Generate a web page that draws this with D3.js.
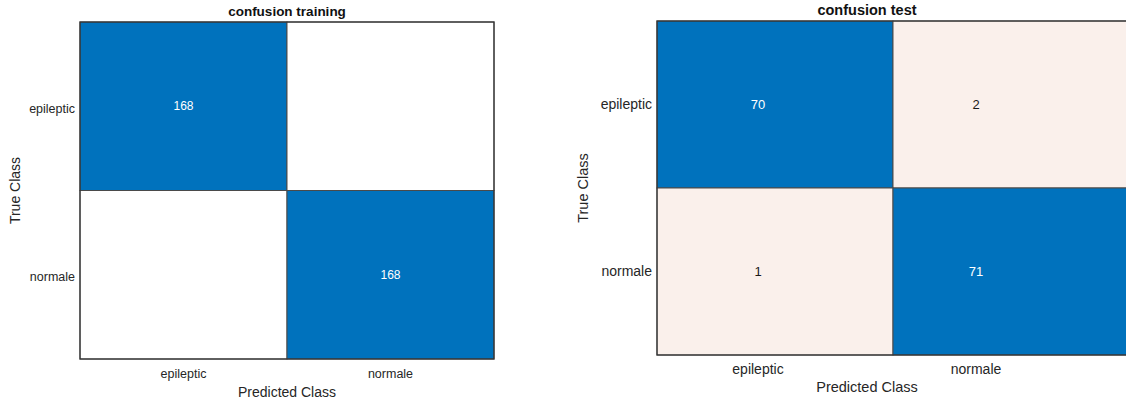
<!DOCTYPE html>
<html>
<head>
<meta charset="utf-8">
<script src="https://cdn.jsdelivr.net/npm/d3@7"></script>
<style>
  html, body { margin: 0; padding: 0; background: #fff; }
  svg { display: block; font-family: "Liberation Sans", Arial, Helvetica, sans-serif; }
</style>
</head>
<body>
<svg id="chart" width="1126" height="403"></svg>
<script>
// Class names (rows = true class, columns = predicted class)
const classes = ["epileptic", "normale"];

// Confusion counts, row-major
const trainingCounts = [
  [168, 0],
  [0, 168]
];
const testCounts = [
  [70, 2],
  [1, 71]
];

const titles = ["confusion training", "confusion test"];
const xAxisTitle = "Predicted Class";
const yAxisTitle = "True Class";

const svg = d3.select("#chart");

const DIAG = "#0072BD";
const OFF = "#FAF0EB";

function panel(cfg) {
  const g = svg.append("g");
  const cells = [];
  cfg.counts.forEach((row, i) => row.forEach((v, j) => cells.push({ t: classes[i], p: classes[j], v, diag: i === j })));

  const x = d3.scaleBand().domain(classes).range([cfg.x0, cfg.x1]);
  const y = d3.scaleBand().domain(classes).range([cfg.y0, cfg.y1]);
  // column centres for labels and cell values
  const lx = d3.scaleBand().domain(classes).range(cfg.labelRange || [cfg.x0, cfg.x1]);

  g.selectAll("rect.cell").data(cells).join("rect")
    .attr("class", "cell")
    .attr("x", d => x(d.p)).attr("y", d => y(d.t))
    .attr("width", x.bandwidth()).attr("height", y.bandwidth())
    .attr("fill", d => d.v === 0 ? "#ffffff" : (d.diag ? DIAG : OFF))
    .attr("stroke", "#4a4a4a").attr("stroke-width", 1);

  // outer frame
  g.append("rect")
    .attr("x", cfg.x0).attr("y", cfg.y0)
    .attr("width", cfg.x1 - cfg.x0).attr("height", cfg.y1 - cfg.y0)
    .attr("fill", "none").attr("stroke", "#333").attr("stroke-width", 1.2);

  g.selectAll("text.val").data(cells.filter(d => d.v !== 0)).join("text")
    .attr("class", "val")
    .attr("x", d => lx(d.p) + lx.bandwidth() / 2)
    .attr("y", d => y(d.t) + y.bandwidth() / 2)
    .attr("dy", "0.35em")
    .attr("text-anchor", "middle")
    .attr("font-size", cfg.valSize)
    .attr("fill", d => d.diag ? "#ffffff" : "#1a1a1a")
    .text(d => d.v);

  // y tick labels
  g.selectAll("text.ytick").data(classes).join("text")
    .attr("class", "ytick")
    .attr("x", cfg.x0 - 5)
    .attr("y", d => y(d) + y.bandwidth() / 2 + cfg.yTickShift)
    .attr("dy", "0.35em")
    .attr("text-anchor", "end")
    .attr("font-size", cfg.tickSize)
    .attr("fill", "#262626")
    .text(d => d);

  // x tick labels
  g.selectAll("text.xtick").data(classes).join("text")
    .attr("class", "xtick")
    .attr("x", d => lx(d) + lx.bandwidth() / 2)
    .attr("y", cfg.y1 + cfg.xTickGap)
    .attr("text-anchor", "middle")
    .attr("font-size", cfg.tickSize)
    .attr("fill", "#262626")
    .text(d => d);

  const cx = (lx.range()[0] + lx.range()[1]) / 2;

  g.append("text")
    .attr("x", cx).attr("y", cfg.y1 + cfg.xTitleGap)
    .attr("text-anchor", "middle")
    .attr("font-size", cfg.axisSize).attr("fill", "#262626")
    .text(xAxisTitle);

  g.append("text")
    .attr("transform", `translate(${cfg.yTitleX},${(cfg.y0 + cfg.y1) / 2}) rotate(-90)`)
    .attr("text-anchor", "middle")
    .attr("font-size", cfg.axisSize).attr("fill", "#262626")
    .text(yAxisTitle);

  g.append("text")
    .attr("x", cx).attr("y", cfg.y0 - 6)
    .attr("text-anchor", "middle")
    .attr("font-size", cfg.titleSize).attr("font-weight", "bold").attr("fill", "#111")
    .text(cfg.title);
}

panel({
  counts: trainingCounts, title: titles[0],
  x0: 80, x1: 494, y0: 22, y1: 359,
  valSize: 12, tickSize: 12.5, axisSize: 14, titleSize: 13.5,
  yTickShift: 2, xTickGap: 19, xTitleGap: 38, yTitleX: 20
});

panel({
  counts: testCounts, title: titles[1],
  x0: 657, x1: 1129, y0: 21, y1: 355,
  labelRange: [649, 1085],
  valSize: 13, tickSize: 14, axisSize: 14.5, titleSize: 14.5,
  yTickShift: 0, xTickGap: 19, xTitleGap: 37, yTitleX: 588
});
</script>
</body>
</html>
